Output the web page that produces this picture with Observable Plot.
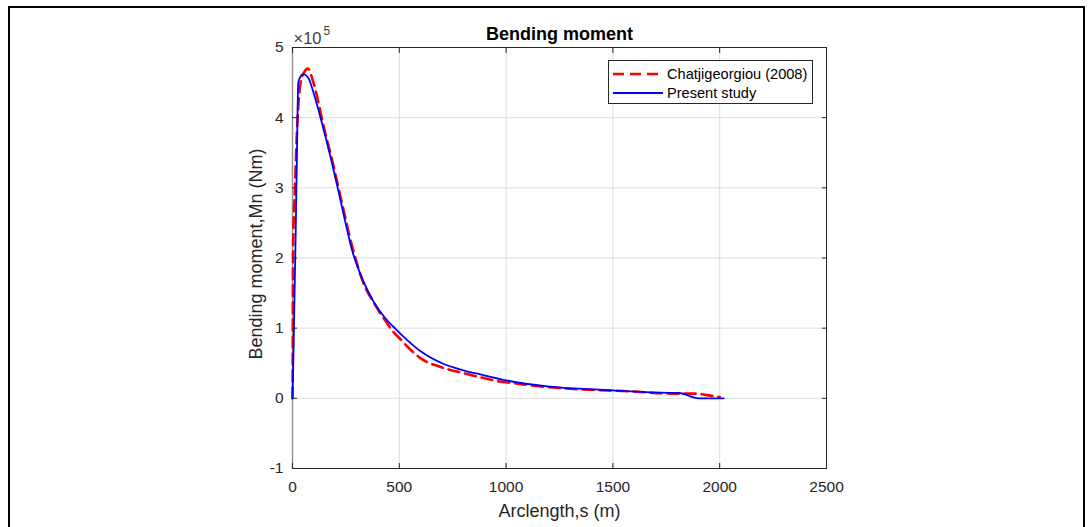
<!DOCTYPE html>
<html><head><meta charset="utf-8">
<script src="https://cdn.jsdelivr.net/npm/d3@7"></script>
<script src="https://cdn.jsdelivr.net/npm/@observablehq/plot@0.6"></script>
<style>
html,body{margin:0;padding:0;background:#fff;overflow:hidden;width:1092px;height:527px}
#wrap{position:relative;width:1092px;height:527px;font-family:"Liberation Sans",Arial,sans-serif}
#border{position:absolute;left:8px;top:6px;width:1077px;height:600px;border:2px solid #000;box-sizing:border-box}
#chart{position:absolute;left:0;top:0}
#legend{position:absolute;left:608px;top:60px;width:205px;height:44px;border:1px solid #262626;background:#fff;box-sizing:border-box}
.lrow{position:absolute;left:0;height:20px;display:flex;align-items:center}
.lrow svg{margin-left:4px}
.lrow span{font-size:14.6px;color:#000;margin-left:4px;white-space:nowrap}
</style></head><body>
<div id="wrap"><div id="border"></div><div id="chart"></div><div id="legend"></div></div>
<script>
// Tick values
const xTicks = [0, 500, 1000, 1500, 2000, 2500];
const yTicks = [-1, 0, 1, 2, 3, 4, 5]; // ×10^5 Nm

// Series names
const seriesNames = ["Chatjigeorgiou (2008)", "Present study"];

// Chatjigeorgiou (2008): arclength (m), bending moment (×10^5 Nm)
const chatS = [0, 1, 3, 11, 19, 28, 37, 55, 73, 90, 108, 147, 186, 225, 280, 330, 381, 427, 474, 500, 550, 600, 700, 800, 880, 958, 1052, 1145, 1333, 1582, 1785, 1879, 1973, 2000];
const chatM = [0, 0.5, 2.2, 2.96, 3.68, 4.2, 4.48, 4.65, 4.70, 4.58, 4.39, 3.86, 3.39, 2.87, 2.16, 1.66, 1.36, 1.14, 0.94, 0.86, 0.70, 0.57, 0.44, 0.36, 0.30, 0.246, 0.21, 0.175, 0.13, 0.10, 0.067, 0.067, 0.03, 0.02];

// Present study
const presS = [0, 3, 8, 14, 20, 27, 35, 50, 65, 77, 100, 139, 178, 225, 279, 330, 381, 430, 482, 537, 600, 700, 800, 880, 1000, 1192, 1500, 1723, 1809, 1902, 2019];
const presM = [0, 0.4, 1.2, 2.2, 3.3, 4.5, 4.57, 4.62, 4.6, 4.55, 4.34, 3.91, 3.44, 2.82, 2.11, 1.68, 1.37, 1.16, 0.99, 0.83, 0.67, 0.50, 0.40, 0.34, 0.256, 0.17, 0.114, 0.08, 0.076, 0, 0];

const chat = chatS.map((s, i) => ({s, m: chatM[i]}));
const pres = presS.map((s, i) => ({s, m: presM[i]}));

const FONT = '"Liberation Sans", Arial, Helvetica, sans-serif';
const ink = "#262626";

const plot = Plot.plot({
  width: 1092, height: 527,
  marginLeft: 292, marginRight: 266, marginTop: 47, marginBottom: 59,
  style: {fontFamily: FONT, background: "transparent", color: ink},
  x: {domain: [0, 2500]},
  y: {domain: [-1, 5]},
  marks: [
    Plot.gridX(xTicks, {stroke: "#dedede", strokeOpacity: 1}),
    Plot.gridY(yTicks, {stroke: "#dedede", strokeOpacity: 1}),
    Plot.frame({stroke: ink}),
    Plot.ruleX([0], {stroke: "#8f8f8f", strokeWidth: 1.4}),
    Plot.line(chat, {x: "s", y: "m", stroke: "#ff0000", strokeWidth: 2.6, strokeDasharray: "11,6", curve: "monotone-x"}),
    Plot.line(pres, {x: "s", y: "m", stroke: "#0000ff", strokeWidth: 1.8, curve: "monotone-x"}),
    Plot.axisX(xTicks, {anchor: "bottom", tickSize: -5, text: null, label: null, stroke: ink}),
    Plot.axisX(xTicks, {anchor: "top", tickSize: -5, text: null, label: null, stroke: ink}),
    Plot.axisY(yTicks, {anchor: "left", tickSize: -5, text: null, label: null, stroke: ink}),
    Plot.axisY(yTicks, {anchor: "right", tickSize: -5, text: null, label: null, stroke: ink}),
    Plot.axisX(xTicks, {anchor: "bottom", tickSize: 0, tickPadding: 12, fontSize: 15.5, label: null, tickFormat: d => String(d), fill: ink}),
    Plot.axisY(yTicks, {anchor: "left", tickSize: 0, tickPadding: 9, fontSize: 15.5, label: null, tickFormat: d => String(d), fill: ink}),
    Plot.text(["Bending moment"], {frameAnchor: "top", lineAnchor: "middle", textAnchor: "middle", dy: -13, fontWeight: "bold", fontSize: 18, fill: "#000"}),
    Plot.text(["Arclength,s (m)"], {frameAnchor: "bottom", lineAnchor: "middle", textAnchor: "middle", dy: 43, fontSize: 18, fill: ink}),
    Plot.text(["Bending moment,Mn (Nm)"], {frameAnchor: "left", lineAnchor: "middle", textAnchor: "middle", dx: -36, dy: -4, rotate: -90, fontSize: 18, fill: ink}),
    Plot.text(["×10"], {frameAnchor: "top-left", lineAnchor: "middle", textAnchor: "start", dx: 1, dy: -9, fontSize: 16.5, fill: "#404040"}),
    Plot.text(["5"], {frameAnchor: "top-left", lineAnchor: "middle", textAnchor: "start", dx: 31, dy: -16, fontSize: 12, fill: "#404040"})
  ]
});
document.getElementById("chart").appendChild(plot);

// Legend
const legendStyles = [
  {stroke: "#ff0000", width: 2.6, dash: "11,6"},
  {stroke: "#0000ff", width: 1.8, dash: null}
];
const legend = d3.select("#legend");
seriesNames.forEach((name, i) => {
  const row = legend.append("div").attr("class", "lrow").style("top", (3 + i * 19) + "px");
  const svg = row.append("svg").attr("width", 50).attr("height", 20);
  svg.append("line").attr("x1", 0).attr("x2", 50).attr("y1", 10).attr("y2", 10)
    .attr("stroke", legendStyles[i].stroke).attr("stroke-width", legendStyles[i].width)
    .attr("stroke-dasharray", legendStyles[i].dash);
  row.append("span").text(name);
});
</script>
</body></html>
